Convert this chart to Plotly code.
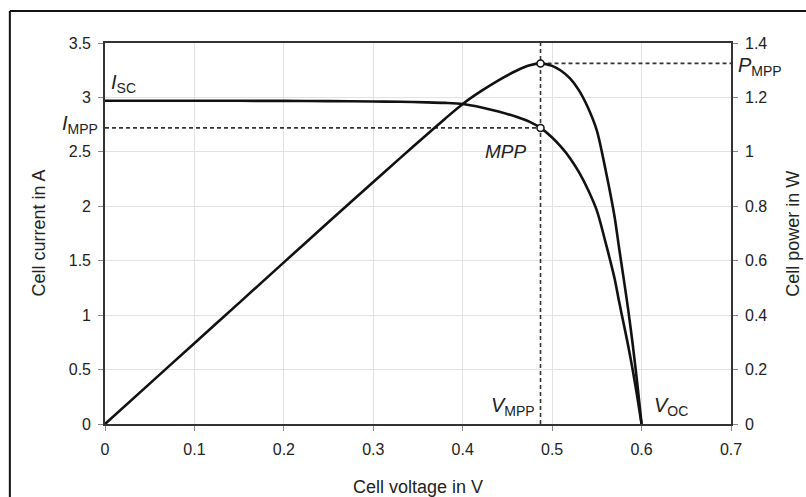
import plotly.graph_objects as go

# ---- data ----
voltage = [0, 0.05, 0.1, 0.15, 0.2, 0.25, 0.3, 0.33, 0.36, 0.38, 0.40, 0.42, 0.44, 0.46,
           0.475, 0.487, 0.50, 0.51, 0.52, 0.53, 0.54, 0.55, 0.56, 0.565, 0.57, 0.575,
           0.58, 0.585, 0.59, 0.595, 0.6]
current = [2.97, 2.97, 2.97, 2.969, 2.968, 2.966, 2.963, 2.96, 2.955, 2.95, 2.94, 2.91, 2.87,
           2.822, 2.775, 2.72, 2.632, 2.545, 2.442, 2.313, 2.154, 1.96, 1.66, 1.50, 1.33,
           1.12, 0.92, 0.72, 0.50, 0.26, 0]
power = [0, 0.1485, 0.297, 0.445, 0.594, 0.742, 0.889, 0.977, 1.064, 1.121, 1.176, 1.222,
         1.263, 1.298, 1.318, 1.325, 1.316, 1.298, 1.270, 1.226, 1.163, 1.078, 0.930, 0.848,
         0.758, 0.644, 0.534, 0.421, 0.295, 0.155, 0]
v_mpp = 0.487
i_mpp = 2.72
p_mpp = 1.325
v_oc = 0.6

x_ticks = [0, 0.1, 0.2, 0.3, 0.4, 0.5, 0.6, 0.7]
x_labels = ["0", "0.1", "0.2", "0.3", "0.4", "0.5", "0.6", "0.7"]
i_ticks = [0, 0.5, 1, 1.5, 2, 2.5, 3, 3.5]
i_labels = ["0", "0.5", "1", "1.5", "2", "2.5", "3", "3.5"]
p_ticks = [0, 0.2, 0.4, 0.6, 0.8, 1.0, 1.2, 1.4]
p_labels = ["0", "0.2", "0.4", "0.6", "0.8", "1", "1.2", "1.4"]

FONT = "Liberation Sans, Arial, sans-serif"
TXT = "#222222"
DASH = dict(color="#333333", width=1.6, dash="4px,3px")

fig = go.Figure()

# dashed guide lines
fig.add_trace(go.Scatter(x=[0, v_mpp], y=[i_mpp, i_mpp], mode="lines", line=DASH,
                         showlegend=False, hoverinfo="skip"))
fig.add_trace(go.Scatter(x=[v_mpp, v_mpp], y=[0, i_ticks[-1]], mode="lines", line=DASH,
                         showlegend=False, hoverinfo="skip"))
fig.add_trace(go.Scatter(x=[v_mpp, x_ticks[-1]], y=[p_mpp, p_mpp], mode="lines", line=DASH,
                         yaxis="y2", showlegend=False, hoverinfo="skip"))

# curves
curve_line = dict(color="#111111", width=2.6, shape="spline", smoothing=0.8)
fig.add_trace(go.Scatter(x=voltage, y=current, mode="lines", line=curve_line,
                         showlegend=False))
fig.add_trace(go.Scatter(x=voltage, y=power, mode="lines", yaxis="y2", line=curve_line,
                         showlegend=False))

# MPP markers
mk = dict(symbol="circle", size=7, color="white", line=dict(color="#111111", width=1.5))
fig.add_trace(go.Scatter(x=[v_mpp], y=[i_mpp], mode="markers", marker=mk, showlegend=False))
fig.add_trace(go.Scatter(x=[v_mpp], y=[p_mpp], mode="markers", marker=mk, yaxis="y2",
                         showlegend=False))

axis_common = dict(showline=True, linecolor="#333333", linewidth=1.6, ticks="outside",
                   ticklen=5, tickcolor="#888888", tickwidth=1, zeroline=False,
                   tickfont=dict(family=FONT, size=16, color=TXT))

fig.update_layout(
    width=806, height=497,
    margin=dict(l=105, r=75, t=43, b=73),
    paper_bgcolor="white", plot_bgcolor="white",
    font=dict(family=FONT, color=TXT),
    xaxis=dict(range=[0, 0.7], tickvals=x_ticks, ticktext=x_labels, showgrid=True,
               gridcolor="#e2e2e2", gridwidth=1, mirror=True, ticklabelstandoff=5,
               **axis_common),
    yaxis=dict(range=[0, 3.5], tickvals=i_ticks, ticktext=i_labels, showgrid=True,
               gridcolor="#e2e2e2", gridwidth=1, mirror=True, ticklabelstandoff=4,
               **axis_common),
    yaxis2=dict(range=[0, 1.4], tickvals=p_ticks, ticktext=p_labels, overlaying="y",
                side="right", showgrid=False, ticklabelstandoff=4, **axis_common),
    showlegend=False,
)

ann_font = dict(family=FONT, size=20, color=TXT)
title_font = dict(family=FONT, size=18, color=TXT)
annotations = [
    dict(x=0.005, y=3.13, xref="x", yref="y", text="<i>I</i><sub>SC</sub>",
         xanchor="left", yanchor="middle", font=ann_font),
    dict(x=-0.008, y=i_mpp + 0.03, xref="paper", yref="y", text="<i>I</i><sub>MPP</sub>",
         xanchor="right", yanchor="middle", font=ann_font),
    dict(x=0.448, y=2.50, xref="x", yref="y", text="<i>MPP</i>",
         xanchor="center", yanchor="middle", font=dict(family=FONT, size=19, color=TXT)),
    dict(x=1.008, y=p_mpp - 0.01, xref="paper", yref="y2", text="<i>P</i><sub>MPP</sub>",
         xanchor="left", yanchor="middle", font=ann_font),
    dict(x=v_mpp - 0.004, y=0.16, xref="x", yref="y", text="<i>V</i><sub>MPP</sub>",
         xanchor="right", yanchor="middle", font=ann_font),
    dict(x=v_oc + 0.012, y=0.16, xref="x", yref="y", text="<i>V</i><sub>OC</sub>",
         xanchor="left", yanchor="middle", font=ann_font),
    dict(x=0.5, y=-0.165, xref="paper", yref="paper", text="Cell voltage in V",
         xanchor="center", yanchor="middle", font=title_font),
    dict(x=-0.107, y=0.5, xref="paper", yref="paper", text="Cell current in A",
         xanchor="center", yanchor="middle", textangle=-90, font=title_font),
    dict(x=1.098, y=0.5, xref="paper", yref="paper", text="Cell power in W",
         xanchor="center", yanchor="middle", textangle=-90, font=title_font),
]
for a in annotations:
    a["showarrow"] = False
fig.update_layout(annotations=annotations)

# outer frame (top and left border of the figure)
fig.add_shape(type="line", xref="paper", yref="paper", x0=-0.152, x1=1.2, y0=1.084, y1=1.084,
              line=dict(color="#111111", width=2))
fig.add_shape(type="line", xref="paper", yref="paper", x0=-0.152, x1=-0.152, y0=1.084, y1=-0.3,
              line=dict(color="#111111", width=2))

fig.write_html("out.html", config={"displayModeBar": False},
               post_script="document.body.style.margin='0px';")
